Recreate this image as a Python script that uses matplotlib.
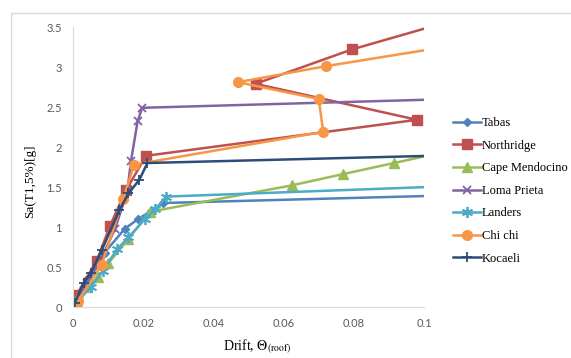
import matplotlib.pyplot as plt
from matplotlib.patches import Rectangle

plt.rcParams['mathtext.fontset'] = 'stix'

# drift values and Sa values (last point of each
# series sits past 0.1 so the line runs out of the plot like in Excel)
tabas_x = [0.0005, 0.004, 0.009, 0.0148, 0.0186, 0.0222, 0.0257, 0.12]
tabas_y = [0.05, 0.35, 0.68, 0.98, 1.10, 1.20, 1.30, 1.41]

north_x = [0.001, 0.0068, 0.0105, 0.0151, 0.0208, 0.098, 0.052, 0.0795, 0.12]
north_y = [0.15, 0.58, 1.01, 1.46, 1.89, 2.34, 2.79, 3.22, 3.73]

cape_x = [0.0005, 0.0014, 0.004, 0.0072, 0.0101, 0.0158, 0.0219, 0.0623,
          0.0768, 0.0915, 0.105]
cape_y = [0.05, 0.13, 0.25, 0.37, 0.55, 0.85, 1.19, 1.52, 1.66, 1.80, 1.93]

loma_x = [0.0005, 0.004, 0.0075, 0.012, 0.0155, 0.0165, 0.0184, 0.0197, 0.12]
loma_y = [0.05, 0.30, 0.55, 0.98, 1.45, 1.82, 2.32, 2.49, 2.615]

landers_x = [0.001, 0.005, 0.0085, 0.0125, 0.0158, 0.0205, 0.0235, 0.0265, 0.12]
landers_y = [0.05, 0.25, 0.45, 0.72, 0.87, 1.10, 1.22, 1.38, 1.53]

chichi_x = [0.0015, 0.0082, 0.0143, 0.0174, 0.0713, 0.070, 0.047, 0.072, 0.12]
chichi_y = [0.08, 0.53, 1.35, 1.78, 2.19, 2.60, 2.81, 3.01, 3.35]

kocaeli_x = [0.0005, 0.003, 0.005, 0.0082, 0.0132, 0.0158, 0.0189, 0.0212, 0.12]
kocaeli_y = [0.05, 0.30, 0.42, 0.71, 1.21, 1.42, 1.59, 1.80, 1.91]

fig = plt.figure(figsize=(5.71, 3.58), dpi=100)
fig.patches.append(Rectangle((11 / 571, -0.1), 1.2, 1.1 - 13 / 358,
                             transform=fig.transFigure, fill=False,
                             edgecolor='#D9D9D9', lw=1))
ax = fig.add_axes([73 / 571, 1 - 307 / 358, 351 / 571, 280 / 358])

lw = 1.8
ax.plot(tabas_x, tabas_y, color='#4F81BD', lw=lw, marker='D', ms=4.5,
        label='Tabas')
ax.plot(north_x, north_y, color='#C0504D', lw=lw, marker='s', ms=7,
        label='Northridge')
ax.plot(cape_x, cape_y, color='#9BBB59', lw=lw, marker='^', ms=6.5,
        label='Cape Mendocino')
ax.plot(loma_x, loma_y, color='#8064A2', lw=lw, marker='x', ms=6,
        mew=1.3, label='Loma Prieta')
ax.plot(landers_x, landers_y, color='#4BACC6', lw=lw, marker=(6, 2, 0),
        ms=8, mew=1.3, label='Landers')
ax.plot(chichi_x, chichi_y, color='#F79646', lw=lw, marker='o', ms=7,
        label='Chi chi')
ax.plot(kocaeli_x, kocaeli_y, color='#2C4D75', lw=lw, marker='+', ms=7,
        mew=1.3, label='Kocaeli')

ax.set_xlim(0, 0.1)
ax.set_ylim(0, 3.5)
ax.set_xticks([0, 0.02, 0.04, 0.06, 0.08, 0.1])
ax.set_xticklabels(['0', '0.02', '0.04', '0.06', '0.08', '0.1'])
ax.set_yticks([0, 0.5, 1, 1.5, 2, 2.5, 3, 3.5])
ax.set_yticklabels(['0', '0.5', '1', '1.5', '2', '2.5', '3', '3.5'])
ax.tick_params(length=0, labelsize=8, labelcolor='#595959', pad=8)
for lab in ax.get_xticklabels() + ax.get_yticklabels():
    lab.set_fontfamily('Lato')

for s in ['top', 'right']:
    ax.spines[s].set_visible(False)
ax.spines['left'].set_color('#D9D9D9')
ax.spines['bottom'].set_color('#D9D9D9')

ax.set_xlabel(r'Drift, $\Theta_{\mathrm{(roof)}}$',
              fontfamily='Liberation Serif', fontsize=10)
ax.xaxis.set_label_coords(0.524, -0.11)
ax.set_ylabel('Sa(T1,5%)[g]', fontfamily='Liberation Serif', fontsize=9.5)
ax.yaxis.set_label_coords(-0.105, 0.45)

ax.legend(loc='upper left', bbox_to_anchor=(448 / 571, 1 - 112 / 358),
          bbox_transform=fig.transFigure, frameon=False,
          prop={'family': 'Liberation Serif', 'size': 9},
          handlelength=2.2, handletextpad=0.1, labelspacing=0.85,
          borderaxespad=0)

plt.savefig('out.png', dpi=100)
